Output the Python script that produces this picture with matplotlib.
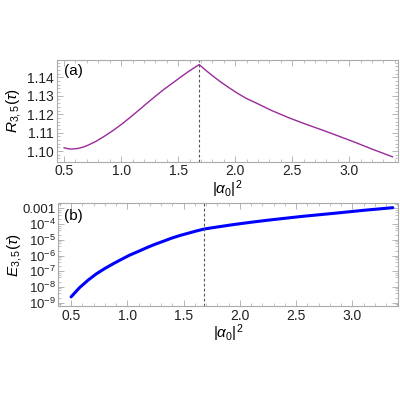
import numpy as np
import matplotlib
matplotlib.use('Agg')
import matplotlib.pyplot as plt
from matplotlib.ticker import MultipleLocator, FixedLocator, FixedFormatter, LogLocator, NullFormatter

# panel (a): ratio R_{3,5}(tau) against |alpha_0|^2
r_alpha = [0.50, 0.54, 0.57, 0.62, 0.67, 0.71, 0.78, 0.86, 0.93, 1.01, 1.08, 1.15, 1.22,
           1.30, 1.37, 1.45, 1.52, 1.59, 1.64, 1.685,
           1.72, 1.78, 1.83, 1.88, 1.95, 2.03, 2.10, 2.18, 2.32, 2.47, 2.61, 2.76,
           2.90, 3.05, 3.20, 3.38]
r_vals = [1.1018, 1.1012, 1.1011, 1.1014, 1.1022, 1.1032, 1.1053, 1.1083, 1.1112, 1.1148,
          1.1183, 1.1219, 1.1256, 1.1297, 1.1332, 1.1368, 1.1400, 1.1431, 1.1451, 1.1469,
          1.1450, 1.1419, 1.1395, 1.1372, 1.1342, 1.1310, 1.1285, 1.1262, 1.1220, 1.1181,
          1.1148, 1.1115, 1.1083, 1.1048, 1.1011, 1.0969]

# panel (b): error E_{3,5}(tau) against |alpha_0|^2
e_alpha = [0.50, 0.575, 0.653, 0.725, 0.801, 0.875, 0.949, 1.02, 1.096, 1.17, 1.243,
           1.32, 1.391, 1.465, 1.538, 1.61, 1.685,
           1.80, 1.95, 2.10, 2.26, 2.55, 2.85, 3.10, 3.36]
e_vals = [2.3e-9, 8.9e-9, 2.75e-8, 6.8e-8, 1.5e-7, 3.0e-7, 5.75e-7, 1.05e-6, 1.8e-6,
          3.1e-6, 5.1e-6, 8.1e-6, 1.26e-5, 1.86e-5, 2.6e-5, 3.6e-5, 4.9e-5,
          6.6e-5, 9.5e-5, 1.32e-4, 1.82e-4, 3.1e-4, 5.0e-4, 7.6e-4, 1.12e-3]

alpha_crit = 1.685

log_ticks = [1e-9, 1e-8, 1e-7, 1e-6, 1e-5, 1e-4, 1e-3]
log_labels = ['10$^{-9}$', '10$^{-8}$', '10$^{-7}$', '10$^{-6}$', '10$^{-5}$', '10$^{-4}$', '0.001']

plt.rcParams['font.family'] = ['Liberation Sans', 'DejaVu Sans']
plt.rcParams['mathtext.fontset'] = 'custom'
plt.rcParams['mathtext.rm'] = 'Liberation Sans'
plt.rcParams['mathtext.it'] = 'Liberation Sans:italic'
plt.rcParams['font.size'] = 10

FRAME = '#aaaaaa'


def style_axes(ax):
    for s in ax.spines.values():
        s.set_color(FRAME)
        s.set_linewidth(0.8)
    ax.tick_params(which='both', direction='in', top=True, right=True, color=FRAME,
                   labelcolor='#222222', labelsize=10, pad=2)
    ax.tick_params(which='major', length=4, width=0.6)
    ax.tick_params(which='minor', length=2, width=0.5)
    ax.xaxis.set_major_locator(MultipleLocator(0.5))
    ax.xaxis.set_minor_locator(MultipleLocator(0.1))


fig = plt.figure(figsize=(4, 4), dpi=100)
ax1 = fig.add_axes([0.142, 0.596, 0.854, 0.255])
ax2 = fig.add_axes([0.144, 0.235, 0.852, 0.257])

# (a)
ax1.plot(r_alpha, r_vals, color='#9a2a9a', lw=1.0)
ax1.axvline(alpha_crit, color='#555555', lw=0.8, ls=(0, (2.5, 2)))
ax1.set_xlim(0.436, 3.432)
ax1.set_ylim(1.0943, 1.1496)
style_axes(ax1)
ax1.yaxis.set_major_locator(MultipleLocator(0.01))
ax1.yaxis.set_minor_locator(MultipleLocator(0.002))
ax1.yaxis.set_major_formatter(plt.FormatStrFormatter('%.2f'))
ax1.set_xlabel(r'$|\alpha_0|^2$', fontsize=11, labelpad=0)
ax1.set_ylabel(r'$R_{3,5}(\tau)$', fontsize=11)
ax1.yaxis.set_label_coords(-0.098, 0.5)
ax1.text(0.02, 0.89, '(a)', transform=ax1.transAxes, fontsize=11, va='center', ha='left')

# (b)
ax2.semilogy(e_alpha, e_vals, color='#0000ff', lw=2.2, solid_capstyle='round')
ax2.axvline(alpha_crit, color='#555555', lw=0.8, ls=(0, (2.5, 2)))
ax2.set_xlim(0.38, 3.41)
ax2.set_ylim(10 ** -9.22, 10 ** -2.665)
style_axes(ax2)
ax2.yaxis.set_major_locator(FixedLocator(log_ticks))
ax2.yaxis.set_major_formatter(FixedFormatter(log_labels))
ax2.yaxis.set_minor_locator(LogLocator(base=10, subs=(2, 4, 6, 8), numticks=20))
ax2.yaxis.set_minor_formatter(NullFormatter())
ax2.tick_params(axis='y', which='major', labelsize=9.5, pad=1)
ax2.set_xlabel(r'$|\alpha_0|^2$', fontsize=11, labelpad=0)
ax2.set_ylabel(r'$E_{3,5}(\tau)$', fontsize=11)
ax2.yaxis.set_label_coords(-0.098, 0.5)
ax2.text(0.02, 0.876, '(b)', transform=ax2.transAxes, fontsize=11, va='center', ha='left')

fig.savefig('out.png', dpi=100)
